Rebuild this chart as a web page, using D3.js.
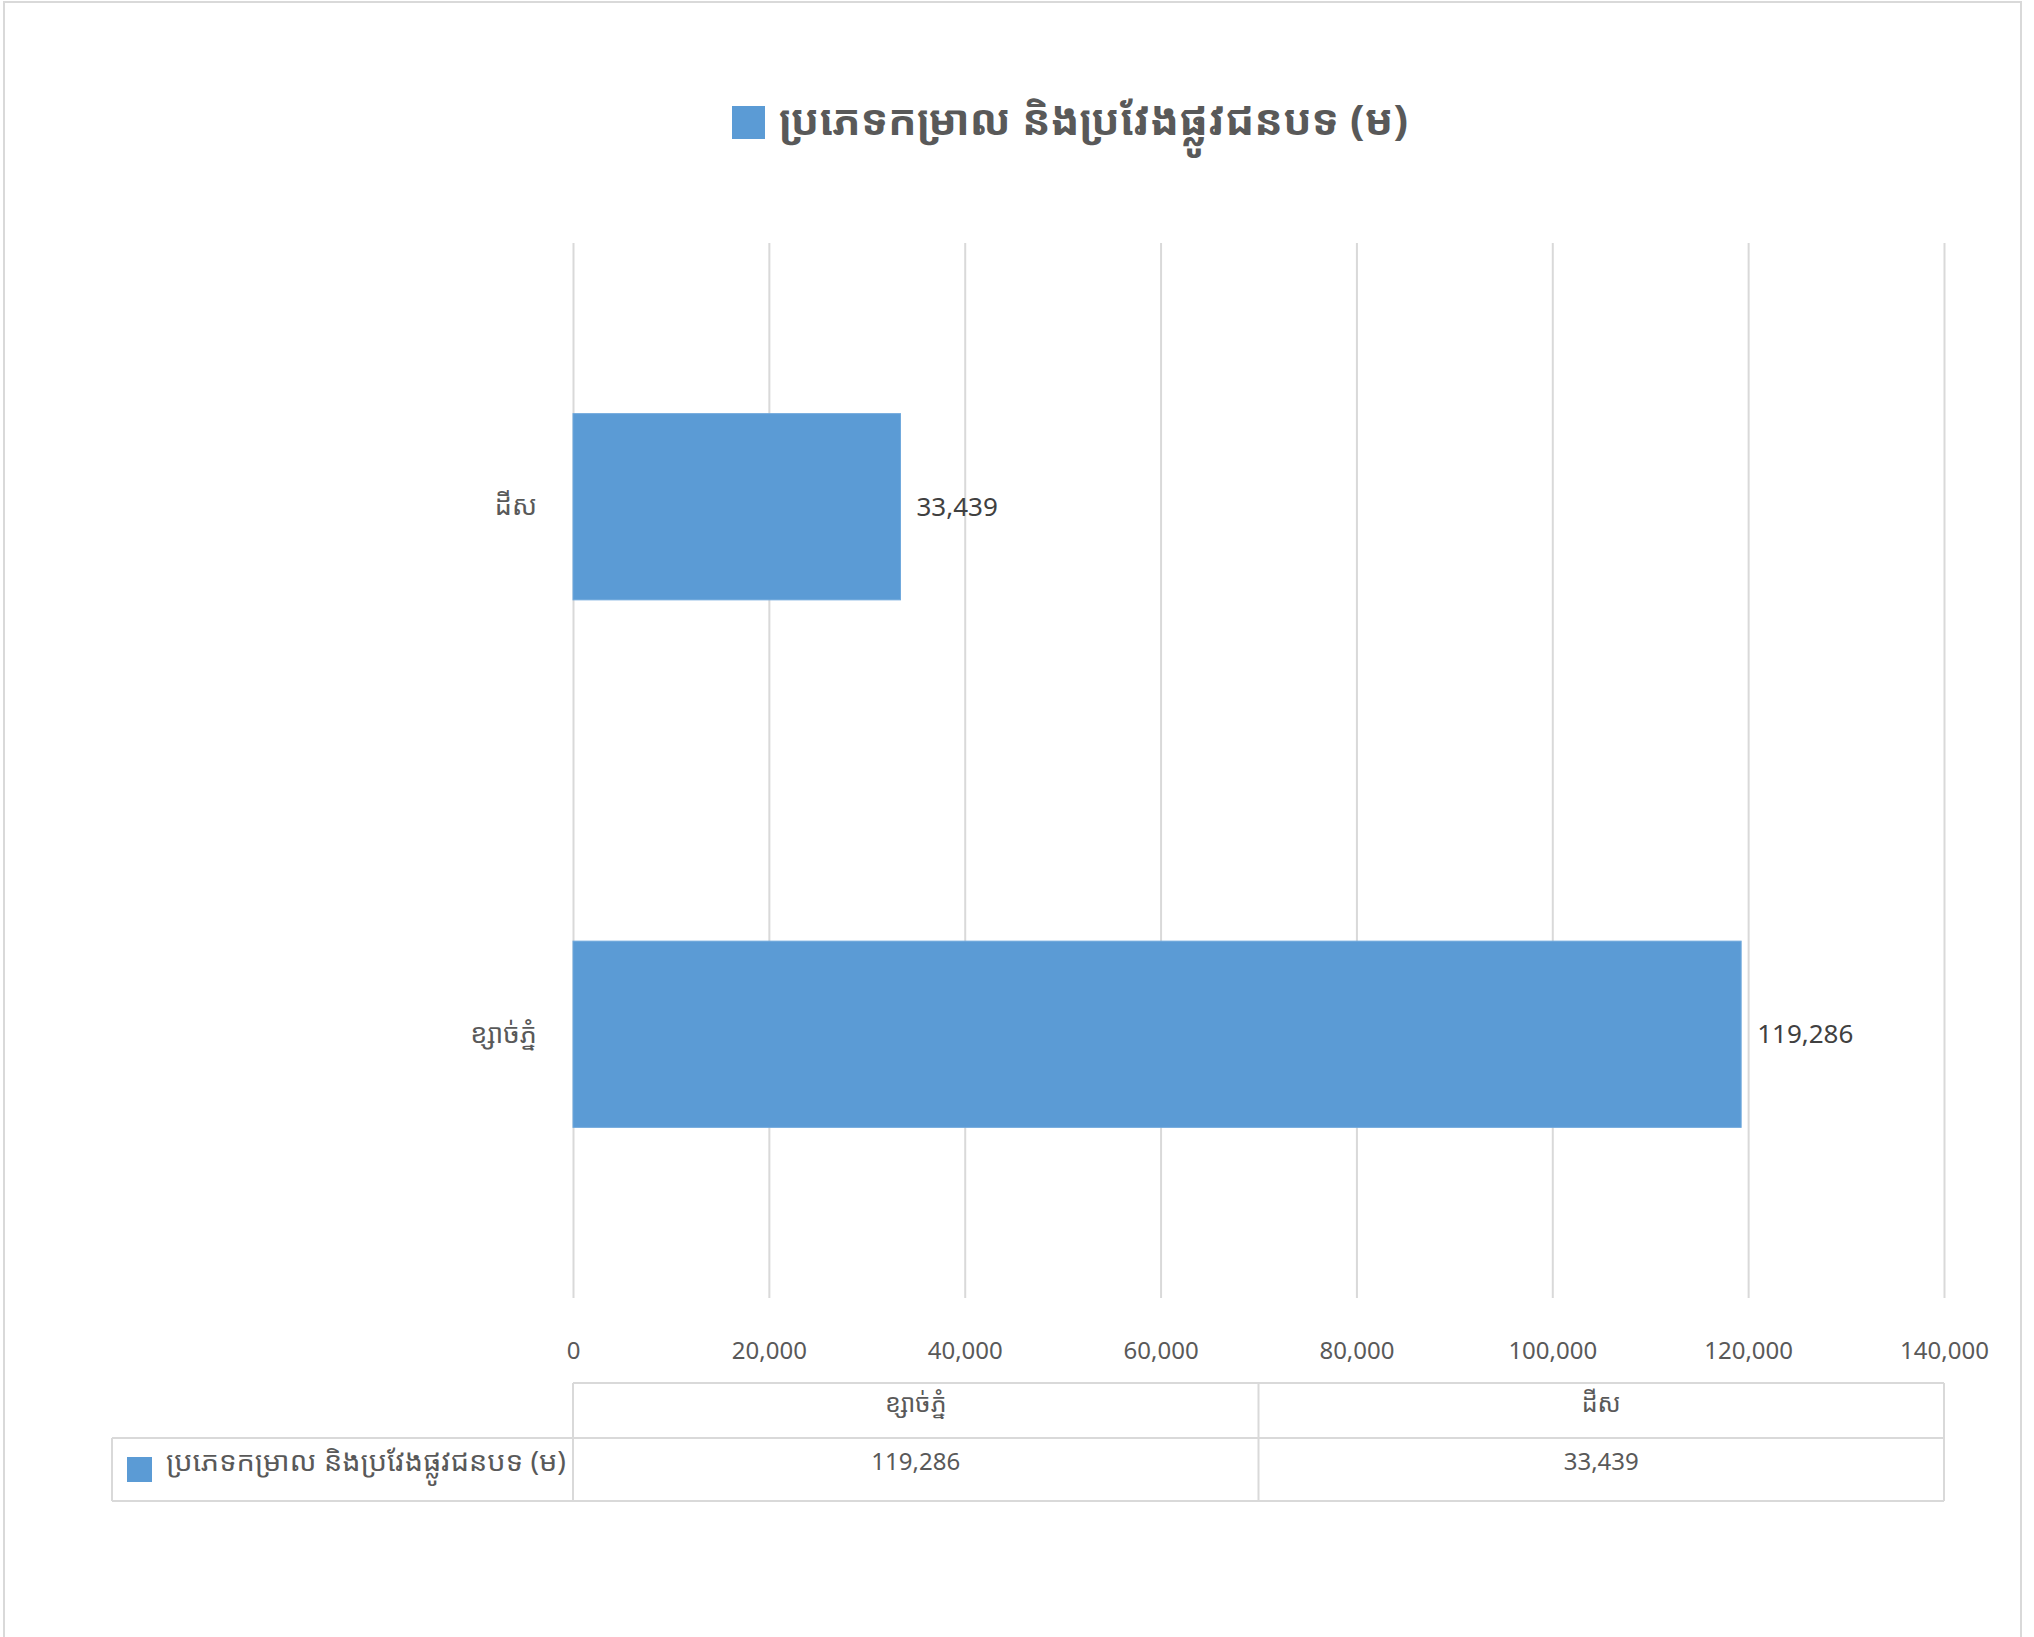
<!DOCTYPE html>
<html>
<head>
<meta charset="utf-8">
<script src="https://cdn.jsdelivr.net/npm/d3@7"></script>
<style>
  html, body { margin: 0; padding: 0; background: #fff; }
  svg { display: block; }
  .kh { font-family: "Noto Sans Khmer", "Khmer OS System", "Khmer OS", "Noto Sans", sans-serif; }
  .num { font-family: "Noto Sans", "DejaVu Sans", sans-serif; }
</style>
</head>
<body>
<svg id="chart" width="2034" height="1637"></svg>
<script>
// ---- data ----
const categories = ["ខ្សាច់ភ្នំ", "ដីស"];
const values = [119286, 33439];
const seriesName = "ប្រភេទកម្រាល និងប្រវែងផ្លូវជនបទ (ម)";
const tickValues = [0, 20000, 40000, 60000, 80000, 100000, 120000, 140000];
const xMax = 140000;

// ---- layout ----
const W = 2034, H = 1637;
const plot = { left: 573, right: 1944, top: 243, bottom: 1298 };
const barColor = "#5b9bd5";
const gridColor = "#d9d9d9";
const fmt = d3.format(",");

const svg = d3.select("#chart");

// chart frame
svg.append("rect")
  .attr("x", 4).attr("y", 2).attr("width", 2017).attr("height", H + 10)
  .attr("fill", "#fff").attr("stroke", gridColor).attr("stroke-width", 2);

const x = d3.scaleLinear().domain([0, xMax]).range([plot.left, plot.right]);
// Excel draws the first category at the bottom
const y = d3.scaleBand()
  .domain(categories.slice().reverse())
  .range([plot.top, plot.bottom])
  .paddingInner(0.647).paddingOuter(0.3235);

// gridlines
const grid = svg.append("g")
  .attr("transform", `translate(0,${plot.bottom})`)
  .call(d3.axisBottom(x).tickValues(tickValues).tickSize(-(plot.bottom - plot.top)).tickFormat(""));
grid.select(".domain").remove();
grid.selectAll("line").attr("stroke", gridColor).attr("stroke-width", 2);

// tick labels
const xAxis = svg.append("g")
  .attr("transform", `translate(0,${plot.bottom})`)
  .call(d3.axisBottom(x).tickValues(tickValues).tickSize(0).tickPadding(0).tickFormat(fmt));
xAxis.select(".domain").remove();
xAxis.selectAll("text")
  .attr("class", "num")
  .attr("y", 53)
  .attr("dy", "0.35em")
  .attr("fill", "#595959")
  .style("font-size", "24px");

// category axis
const yAxis = svg.append("g")
  .attr("transform", `translate(${plot.left},0)`)
  .call(d3.axisLeft(y).tickSize(0).tickPadding(36));
yAxis.select(".domain").remove();
yAxis.selectAll("text")
  .attr("class", "kh")
  .attr("fill", "#595959")
  .style("font-size", "27px");

// bars
svg.append("g").selectAll("rect")
  .data(categories.map((c, i) => ({ c, v: values[i] })))
  .join("rect")
  .attr("x", x(0))
  .attr("y", d => y(d.c))
  .attr("width", d => x(d.v) - x(0))
  .attr("height", y.bandwidth())
  .attr("fill", barColor)
  .attr("stroke", "#6fa8dc")
  .attr("stroke-width", 1);

// value labels
svg.append("g").selectAll("text")
  .data(categories.map((c, i) => ({ c, v: values[i] })))
  .join("text")
  .attr("class", "num")
  .attr("x", d => x(d.v) + 16)
  .attr("y", d => y(d.c) + y.bandwidth() / 2)
  .attr("dy", "0.35em")
  .attr("fill", "#404040")
  .style("font-size", "26px")
  .text(d => fmt(d.v));

// title with legend key
const title = svg.append("g");
title.append("rect")
  .attr("x", 732).attr("y", 106).attr("width", 33).attr("height", 33)
  .attr("fill", barColor);
title.append("text")
  .attr("class", "kh")
  .attr("x", 779).attr("y", 120)
  .attr("dy", "0.35em")
  .attr("fill", "#595959")
  .style("font-size", "42px")
  .style("font-weight", "bold")
  .attr("textLength", 629)
  .attr("lengthAdjust", "spacingAndGlyphs")
  .text(seriesName);

// data table
const table = { left: 112, top: 1383, mid: 1438, bottom: 1501 };
const colEdges = [plot.left, (plot.left + plot.right) / 2, plot.right];
const tg = svg.append("g");
const lineStyle = sel => sel.attr("stroke", gridColor).attr("stroke-width", 2).attr("fill", "none");
// horizontal lines
tg.append("line").attr("x1", plot.left).attr("x2", plot.right).attr("y1", table.top).attr("y2", table.top).call(lineStyle);
tg.append("line").attr("x1", table.left).attr("x2", plot.right).attr("y1", table.mid).attr("y2", table.mid).call(lineStyle);
tg.append("line").attr("x1", table.left).attr("x2", plot.right).attr("y1", table.bottom).attr("y2", table.bottom).call(lineStyle);
// vertical lines
tg.append("line").attr("x1", table.left).attr("x2", table.left).attr("y1", table.mid).attr("y2", table.bottom).call(lineStyle);
colEdges.forEach(cx => {
  tg.append("line").attr("x1", cx).attr("x2", cx).attr("y1", table.top).attr("y2", table.bottom).call(lineStyle);
});
// header cells
categories.forEach((c, i) => {
  tg.append("text")
    .attr("class", "kh")
    .attr("x", (colEdges[i] + colEdges[i + 1]) / 2)
    .attr("y", (table.top + table.mid) / 2 - 7)
    .attr("dy", "0.35em")
    .attr("text-anchor", "middle")
    .attr("fill", "#595959")
    .style("font-size", "25px")
    .text(c);
  tg.append("text")
    .attr("class", "num")
    .attr("x", (colEdges[i] + colEdges[i + 1]) / 2)
    .attr("y", (table.mid + table.bottom) / 2 - 8)
    .attr("dy", "0.35em")
    .attr("text-anchor", "middle")
    .attr("fill", "#595959")
    .style("font-size", "24px")
    .text(fmt(values[i]));
});
// legend cell
tg.append("rect")
  .attr("x", 127).attr("y", 1457).attr("width", 25).attr("height", 25)
  .attr("fill", barColor);
tg.append("text")
  .attr("class", "kh")
  .attr("x", 166).attr("y", (table.mid + table.bottom) / 2 - 8)
  .attr("dy", "0.35em")
  .attr("fill", "#595959")
  .style("font-size", "27px")
  .attr("textLength", 400)
  .attr("lengthAdjust", "spacingAndGlyphs")
  .text(seriesName);
</script>
</body>
</html>
